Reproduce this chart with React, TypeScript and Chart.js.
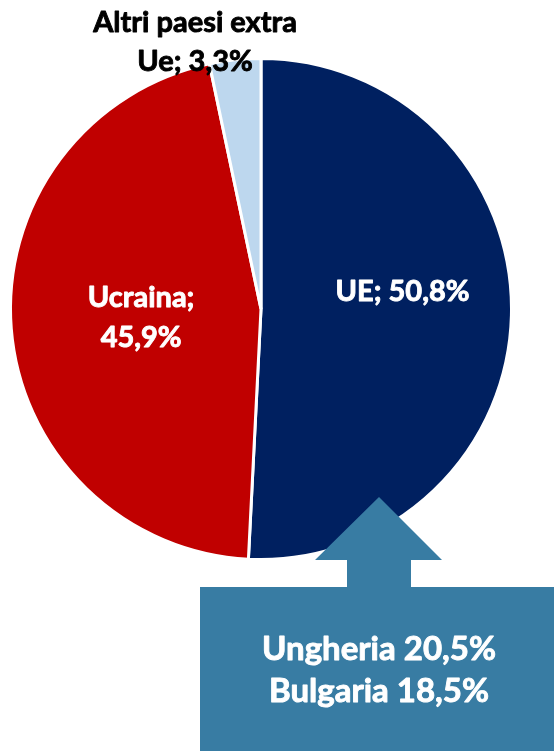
import React, { useEffect, useRef } from "react";
import { Chart, registerables } from "chart.js";

Chart.register(...registerables);

const categories = ["UE", "Ucraina", "Altri paesi extra Ue"];
const shares = [50.8, 45.9, 3.3];
const sliceLabels = [["UE; 50,8%"], ["Ucraina;", "45,9%"], ["Altri paesi extra", "Ue; 3,3%"]];
const colors = ["#002060", "#C00000", "#BDD7EE"];
const calloutLines = ["Ungheria 20,5%", "Bulgaria 18,5%"];

const FONT = "Lato, 'Open Sans', sans-serif";

function boldText(ctx: CanvasRenderingContext2D, t: string, x: number, y: number, color: string) {
  ctx.fillStyle = color;
  ctx.strokeStyle = color;
  ctx.lineWidth = 0.9;
  ctx.lineJoin = "round";
  ctx.fillText(t, x, y);
  ctx.strokeText(t, x, y);
}

export default function App() {
  const ref = useRef<HTMLCanvasElement>(null);
  useEffect(() => {
    if (!ref.current) return;
    const labelPlugin = {
      id: "sliceLabels",
      afterDatasetsDraw(chart: any) {
        const ctx = chart.ctx;
        const meta = chart.getDatasetMeta(0);
        ctx.save();
        ctx.textAlign = "center";
        ctx.textBaseline = "middle";
        meta.data.forEach((arc: any, i: number) => {
          const p = arc.getProps(["x", "y", "startAngle", "endAngle", "outerRadius"], true);
          const mid = (p.startAngle + p.endAngle) / 2;
          let cx: number, cy: number, color: string, lh: number;
          if (i === 0) {
            cx = p.x + Math.cos(mid) * p.outerRadius * 0.565;
            cy = p.y + Math.sin(mid) * p.outerRadius * 0.565 - 21;
            color = "#ffffff";
            lh = 40;
          } else if (i === 1) {
            cx = p.x + Math.cos(mid) * p.outerRadius * 0.48;
            cy = p.y + Math.sin(mid) * p.outerRadius * 0.48 - 1;
            color = "#ffffff";
            lh = 40;
          } else {
            cx = p.x - 66;
            cy = p.y - p.outerRadius - 16;
            color = "#000000";
            lh = 39;
          }
          ctx.font = `bold 29px ${FONT}`;
          const lines = sliceLabels[i];
          lines.forEach((t, k) => {
            boldText(ctx, t, cx, cy + (k - (lines.length - 1) / 2) * lh, color);
          });
        });
        // callout arrow box
        ctx.fillStyle = "#387CA3";
        ctx.beginPath();
        ctx.moveTo(379, 497);
        ctx.lineTo(442, 560);
        ctx.lineTo(411, 560);
        ctx.lineTo(411, 587);
        ctx.lineTo(560, 587);
        ctx.lineTo(560, 760);
        ctx.lineTo(200, 760);
        ctx.lineTo(200, 587);
        ctx.lineTo(347, 587);
        ctx.lineTo(347, 560);
        ctx.lineTo(315, 560);
        ctx.closePath();
        ctx.fill();
        ctx.font = `bold 33px ${FONT}`;
        calloutLines.forEach((t, k) => {
          boldText(ctx, t, 379, 649 + k * 42, "#ffffff");
        });
        ctx.restore();
      },
    };
    const chart = new Chart(ref.current, {
      type: "pie",
      data: {
        labels: categories,
        datasets: [
          {
            data: shares,
            backgroundColor: colors,
            borderColor: "#ffffff",
            borderWidth: 3,
          },
        ],
      },
      options: {
        responsive: false,
        animation: false,
        layout: { padding: { left: 9, right: 41, top: 57, bottom: 190 } },
        plugins: { legend: { display: false }, tooltip: { enabled: false } },
      },
      plugins: [labelPlugin],
    });
    return () => chart.destroy();
  }, []);
  return (
    <div style={{ position: "fixed", left: 0, top: 0, width: 554, height: 751, background: "#fff" }}>
      <canvas ref={ref} width={554} height={751} />
    </div>
  );
}
